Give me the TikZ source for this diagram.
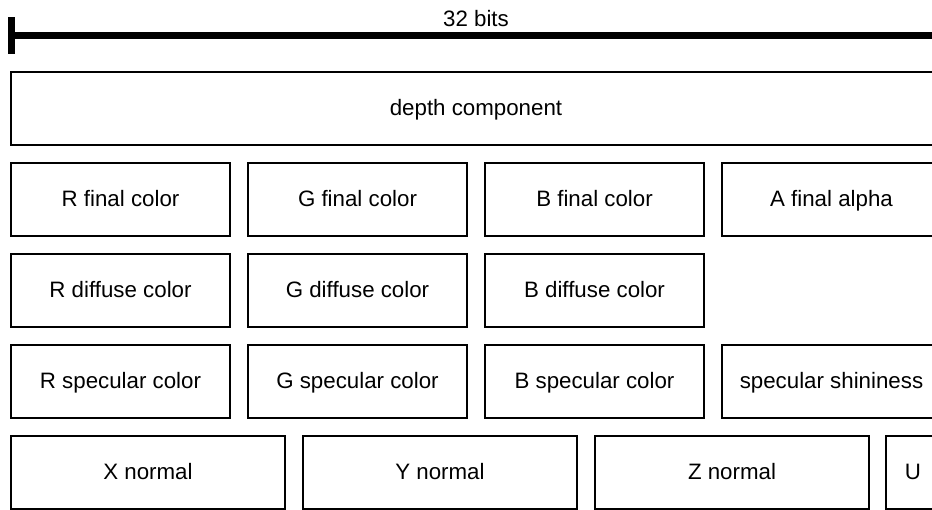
\documentclass[tikz,border=0pt]{standalone}
\usepackage{fontspec}
\setmainfont{Liberation Sans}
\begin{document}
\begin{tikzpicture}[x=1pt,y=-1pt,
  label font/.style={font=\fontsize{22.3}{26}\selectfont},
  field/.style={draw=black, line width=1.3pt, rectangle, inner sep=0pt,
    minimum height=73pt, text height=18pt, text depth=5pt, label font},
  quarter/.style={field, minimum width=219pt},
  wide/.style={field, minimum width=274pt},
  ruler/.style={line width=7pt, black}]
\useasboundingbox (0,0) rectangle (932,509);
\clip (0,0) rectangle (932,509);
% word-width ruler
\coordinate (rs) at (11.5,35.5);
\coordinate (re) at (960,35.5);
\coordinate (tt) at (11.5,17);
\coordinate (tb) at (11.5,54);
\draw[ruler] (rs) -- (re);
\draw[ruler] (tt) -- (tb);
\node[label font, anchor=base, inner sep=0pt] (bits) at (476,26) {32 bits};
% row 1: full-width depth
\node[field, minimum width=930pt] (depth) at (476,108.5) {depth component};
% row 2: final colour
\node[quarter] (rf) at (120.5,199.5) {R final color};
\node[quarter] (gf) at (357.5,199.5) {G final color};
\node[quarter] (bf) at (594.5,199.5) {B final color};
\node[quarter] (af) at (831.5,199.5) {A final alpha};
% row 3: diffuse colour
\node[quarter] (rd) at (120.5,290.5) {R diffuse color};
\node[quarter] (gd) at (357.5,290.5) {G diffuse color};
\node[quarter] (bd) at (594.5,290.5) {B diffuse color};
% row 4: specular colour
\node[quarter] (rs4) at (120.5,381.5) {R specular color};
\node[quarter] (gs) at (357.5,381.5) {G specular color};
\node[quarter] (bs) at (594.5,381.5) {B specular color};
\node[quarter] (sh) at (831.5,381.5) {specular shininess};
% row 5: normal
\node[wide] (xn) at (148,472.5) {X normal};
\node[wide] (yn) at (440,472.5) {Y normal};
\node[wide] (zn) at (732,472.5) {Z normal};
\node[field, minimum width=54pt] (un) at (913,472.5) {U};
\end{tikzpicture}
\end{document}
